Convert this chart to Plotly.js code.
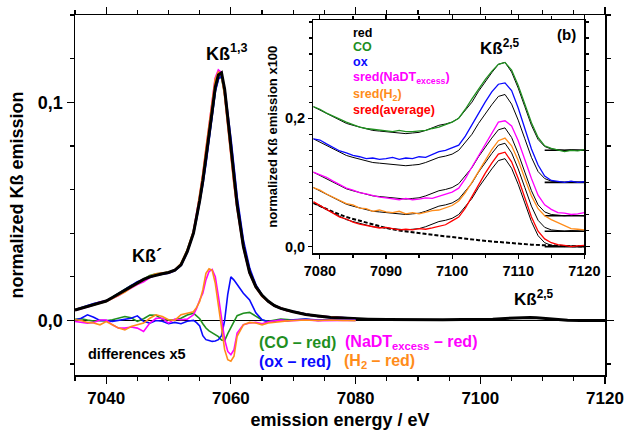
<!DOCTYPE html>
<html>
<head>
<meta charset="utf-8">
<script src="https://cdn.plot.ly/plotly-3.0.1.min.js"></script>
<style>html,body{margin:0;padding:0;background:#fff;}#plot{width:627px;height:430px;}</style>
</head>
<body>
<div id="plot"></div>
<script>
// ---------- main panel: Kbeta emission (normalized) ----------
const mainE = [7035,7036,7037,7038,7039,7040,7041,7042,7043,7044,7045,7046,7047,7048,7049,7050,7051,7052,7053,7054,
  7054.5,7055,7055.5,7056,7056.5,7057,7057.5,7058,7058.5,7059,7059.5,7060,7060.5,7061,
  7062,7063,7064,7065,7066,7067,7068,7069,7070,7072,7074,7076,7078,7080];
const mainRed = [0.0048,0.0056,0.0065,0.0074,0.0083,0.0089,0.0105,0.0122,0.0140,0.0157,0.0172,0.0188,0.0200,0.0208,0.0214,0.0220,0.0230,0.0255,0.0315,0.0400,
  0.0470,0.0550,0.0640,0.0740,0.0850,0.0960,0.1070,0.1125,0.1135,0.1060,0.0930,0.0790,0.0660,0.0530,
  0.0340,0.0220,0.0155,0.0115,0.0088,0.0068,0.0055,0.0046,0.0040,0.0027,0.0019,0.0014,0.0011,0.0008];
const tailE = [7082,7085,7088,7091,7094,7097,7100,7102,7104,7106,7107,7108,7109,7110,7112,7114,7116,7118,7120];
const tailRed = [0.0006,0.0004,0.0003,0.0003,0.0003,0.0004,0.0004,0.0006,0.0009,0.0012,0.0013,0.0014,0.0012,0.0010,0.0004,0.0001,0.0000,0.0000,0.0000];

// differences x5 (on mainE grid)
const diffCO = [0.0005,0.0008,0.0002,-0.0003,0.0000,-0.0002,0.0003,0.0010,0.0018,0.0012,-0.0004,0.0008,0.0025,0.0024,0.0006,0.0002,0.0003,0.0010,0.0025,0.0033,
  0.0022,0.0008,-0.0015,-0.0035,-0.0048,-0.0058,-0.0066,-0.0074,-0.0090,-0.0092,-0.0060,-0.0035,-0.0005,0.0022,
  0.0033,0.0037,0.0018,0.0002,-0.0004,0.0002,0.0006,0.0004,0.0002,0.0005,0.0000,0.0003,0.0001,0.0000];
const diffOx = [0.0002,0.0010,0.0026,0.0015,0.0000,0.0000,-0.0004,0.0000,0.0003,0.0010,0.0021,-0.0004,-0.0012,0.0000,-0.0004,-0.0015,-0.0009,-0.0015,-0.0004,0.0000,
  -0.0010,-0.0025,-0.0070,-0.0088,-0.0092,-0.0096,-0.0094,-0.0088,-0.0070,0.0000,0.0120,0.0200,0.0185,0.0163,
  0.0125,0.0094,0.0035,0.0003,-0.0006,-0.0003,0.0002,-0.0002,0.0003,0.0006,0.0002,0.0004,0.0001,0.0002];
const diffNaDT = [-0.0005,-0.0009,-0.0012,-0.0009,0.0002,0.0002,-0.0020,-0.0035,-0.0035,-0.0030,-0.0035,-0.0050,-0.0012,0.0010,0.0010,-0.0012,0.0006,0.0003,0.0006,0.0026,
  0.0055,0.0094,0.0125,0.0186,0.0224,0.0234,0.0201,0.0110,0.0000,-0.0088,-0.0142,-0.0157,-0.0134,-0.0058,
  -0.0020,-0.0012,-0.0009,-0.0015,-0.0006,-0.0003,0.0002,-0.0002,0.0000,0.0002,-0.0001,0.0001,0.0000,0.0000];
const diffH2 = [0.0003,0.0000,-0.0009,-0.0012,-0.0020,-0.0005,-0.0020,-0.0035,-0.0043,-0.0028,-0.0020,-0.0012,0.0010,0.0026,0.0018,0.0003,0.0000,0.0026,0.0033,0.0040,
  0.0060,0.0087,0.0140,0.0216,0.0237,0.0230,0.0170,0.0064,-0.0043,-0.0134,-0.0180,-0.0187,-0.0164,-0.0073,
  -0.0020,-0.0009,-0.0012,-0.0020,-0.0012,-0.0008,-0.0004,-0.0002,0.0000,0.0002,0.0000,0.0002,0.0000,0.0000];
const diffScale = 5;

// ---------- inset: Kbeta2,5 region (x100) ----------
const insetE = [7079,7080,7081,7082,7083,7084,7085,7086,7087,7088,7089,7090,7091,7092,7093,7094,7095,7096,7097,7098,7099,7100,
  7101,7102,7103,7104,7105,7106,7107,7108,7109,7110,7111,7112,7113,7114,7115,7116,7117,7118,7119,7120];
const inRed = [0.068,0.063,0.057,0.052,0.047,0.042,0.039,0.036,0.034,0.031,0.030,0.029,0.027,0.027,0.026,0.027,0.028,0.031,0.035,0.039,0.041,0.044,
  0.050,0.062,0.075,0.092,0.107,0.121,0.134,0.137,0.122,0.097,0.068,0.039,0.017,0.006,0.002,0.001,0.000,0.001,0.000,0.000];
const inCO = [0.068,0.064,0.058,0.053,0.048,0.044,0.040,0.036,0.034,0.033,0.031,0.030,0.029,0.031,0.029,0.029,0.030,0.031,0.034,0.036,0.040,0.044,
  0.050,0.064,0.080,0.096,0.110,0.123,0.134,0.137,0.125,0.101,0.072,0.043,0.020,0.007,0.003,0.001,-0.002,0.000,-0.001,0.001];
const inOx = [0.068,0.066,0.060,0.054,0.049,0.046,0.042,0.040,0.037,0.038,0.036,0.037,0.039,0.036,0.038,0.037,0.040,0.039,0.044,0.048,0.050,0.054,
  0.058,0.072,0.090,0.107,0.125,0.141,0.153,0.155,0.143,0.116,0.083,0.052,0.027,0.010,0.003,0.002,0.000,0.002,0.000,0.001];
const inNaDT = [0.068,0.064,0.060,0.054,0.049,0.043,0.040,0.036,0.034,0.031,0.029,0.028,0.027,0.025,0.027,0.025,0.026,0.028,0.027,0.030,0.034,0.037,
  0.043,0.058,0.076,0.094,0.112,0.130,0.146,0.148,0.140,0.117,0.087,0.058,0.032,0.017,0.010,0.005,0.004,0.002,0.003,0.005];
const inH2 = [0.068,0.064,0.058,0.053,0.049,0.043,0.041,0.036,0.035,0.031,0.033,0.030,0.029,0.031,0.027,0.029,0.027,0.030,0.032,0.033,0.037,0.040,
  0.047,0.060,0.076,0.093,0.110,0.127,0.141,0.145,0.133,0.110,0.082,0.055,0.035,0.024,0.018,0.013,0.008,0.004,0.003,0.002];
const inAvg = [0.070,0.064,0.058,0.051,0.046,0.043,0.038,0.035,0.033,0.032,0.029,0.030,0.028,0.026,0.027,0.026,0.028,0.027,0.029,0.032,0.034,0.040,
  0.046,0.060,0.078,0.097,0.114,0.130,0.144,0.147,0.132,0.106,0.077,0.046,0.024,0.012,0.006,0.003,0.002,0.000,0.001,0.002];
const bgE = [7079,7080,7082,7084,7086,7088,7090,7092,7094,7096,7098,7100,7102,7104,7106,7108,7110,7112,7114,7116,7118,7120];
const bgVal = [0.068,0.063,0.054,0.046,0.040,0.034,0.029,0.025,0.022,0.019,0.017,0.015,0.012,0.010,0.008,0.006,0.004,0.003,0.002,0.001,0.000,0.000];
const pairNames = ['CO','ox','sred(NaDT<sub>excess</sub>)','sred(H<sub>2</sub>)','sred(average)'];
const pairOffsets = [0.15, 0.10, 0.048, 0.024, 0.0];
const baselineE = [7114, 7120];

const C = {green:'#1f8f1f', blue:'#0a0aff', magenta:'#ff00ff', orange:'#ff8c1a', red:'#ff0000', black:'#000000'};
const FONT = 'Arial, "Liberation Sans", sans-serif';

const traces = [];
// main spectra: colored under black
const overlays = [[diffCO,C.green],[diffOx,C.blue],[diffNaDT,C.magenta],[diffH2,C.orange]];
overlays.forEach(([d,col]) => {
  traces.push({x: mainE, y: mainRed.map((v,i)=>v + d[i]/diffScale), mode:'lines', line:{color:col, width:2}, hoverinfo:'skip'});
});
traces.push({x: mainE.concat(tailE), y: mainRed.concat(tailRed), mode:'lines', line:{color:C.black, width:3}, hoverinfo:'skip'});
overlays.forEach(([d,col]) => {
  traces.push({x: mainE, y: d, mode:'lines', line:{color:col, width:1.6}, hoverinfo:'skip'});
});

// inset
const pairData = [inCO, inOx, inNaDT, inH2, inAvg];
const pairCols = [C.green, C.blue, C.magenta, C.orange, C.red];
traces.push({x: bgE, y: bgVal, xaxis:'x2', yaxis:'y2', mode:'lines', line:{color:C.black, width:2, dash:'4px,2px'}, hoverinfo:'skip'});
pairData.forEach((arr, k) => {
  const off = pairOffsets[k];
  traces.push({x: baselineE, y: baselineE.map(()=>off), xaxis:'x2', yaxis:'y2', mode:'lines', line:{color:C.black, width:1.6}, hoverinfo:'skip'});
  traces.push({x: insetE, y: inRed.map(v=>v+off), xaxis:'x2', yaxis:'y2', mode:'lines', line:{color:C.black, width:1}, hoverinfo:'skip'});
  traces.push({x: insetE, y: arr.map(v=>v+off), xaxis:'x2', yaxis:'y2', mode:'lines', line:{color:pairCols[k], width:1.3}, hoverinfo:'skip'});
});

const bold = (size,color) => ({family: FONT, size: size, color: color || '#000', weight: 'bold'});
const ann = [];
function A(text, x, y, size, color, xanchor, ref) {
  ann.push({text: text, x: x, y: y, xref: ref ? 'x2' : 'x', yref: ref ? 'y2' : 'y', showarrow: false,
    xanchor: xanchor || 'center', yanchor: 'middle', font: bold(size, color)});
}
A('Kß<sup>1,3</sup>', 7059.4, 0.123, 18);
A('Kß´', 7046.5, 0.0296, 18);
A('Kß<sup>2,5</sup>', 7108.6, 0.0103, 17);
A('differences x5', 7036.8, -0.0154, 14.5, '#000', 'left');
A('(CO – red)', 7064.2, -0.0099, 16, C.green, 'left');
A('(ox – red)', 7064.2, -0.0186, 16, C.blue, 'left');
A('(NaDT<sub>excess</sub> – red)', 7078.0, -0.0099, 16, C.magenta, 'left');
A('(H<sub>2</sub> – red)', 7077.8, -0.0186, 16, C.orange, 'left');
// inset labels
A('Kß<sup>2,5</sup>', 7107.2, 0.311, 17, '#000', 'center', true);
A('(b)', 7117.3, 0.330, 15, '#000', 'center', true);
const legendY = [0.333, 0.311, 0.288, 0.262, 0.236, 0.213];
const legendNames = ['red'].concat(pairNames);
const legendCols = [C.black].concat(pairCols);
legendNames.forEach((n,i) => A(n, 7084.7, legendY[i], 12.5, legendCols[i], 'left', true));

const axBase = {showline:true, linecolor:'#000', linewidth:1.5, mirror:'ticks', ticks:'outside', tickcolor:'#000',
  tickwidth:1.2, showgrid:false, zeroline:false};

const layout = {
  width: 627, height: 430,
  margin: {l:75, r:22, t:15, b:55, pad:0},
  paper_bgcolor:'#fff', plot_bgcolor:'rgba(0,0,0,0)',
  separators: ',.',
  showlegend: false,
  font: {family: FONT, color:'#000'},
  xaxis: Object.assign({}, axBase, {range:[7035,7120], dtick:20, tick0:7040, ticklen:7,
    minor:{dtick:5, ticks:'outside', ticklen:4, tickcolor:'#000', tickwidth:1.2},
    tickfont: bold(17), title:{text:'emission energy / eV', font: bold(18), standoff: 8}}),
  yaxis: Object.assign({}, axBase, {range:[-0.025,0.14], dtick:0.1, tick0:0, tickformat:'.1f', ticklen:7,
    zeroline:true, zerolinecolor:'#000', zerolinewidth:1.2,
    minor:{dtick:0.02, ticks:'outside', ticklen:4, tickcolor:'#000', tickwidth:1.2},
    tickfont: bold(18), title:{text:'normalized Kß emission', font: bold(18), standoff: 9}}),
  xaxis2: Object.assign({}, axBase, {anchor:'y2', domain:[0.4496,0.961], range:[7079,7120], dtick:10, tick0:7080,
    ticklen:4, linewidth:1.2, minor:{dtick:5, ticks:'outside', ticklen:3, tickcolor:'#000'}, tickfont: bold(14.5)}),
  yaxis2: Object.assign({}, axBase, {anchor:'x2', domain:[0.338,0.986], range:[-0.0105,0.353], dtick:0.2, tick0:0,
    tickformat:'.1f', ticklen:4, linewidth:1.2, minor:{dtick:0.025, ticks:'outside', ticklen:3, tickcolor:'#000'},
    tickfont: bold(14.5), title:{text:'normalized Kß emission x100', font: bold(13), standoff: 4}}),
  annotations: ann
};

Plotly.newPlot('plot', traces, layout, {staticPlot:true, displayModeBar:false});
</script>
</body>
</html>
